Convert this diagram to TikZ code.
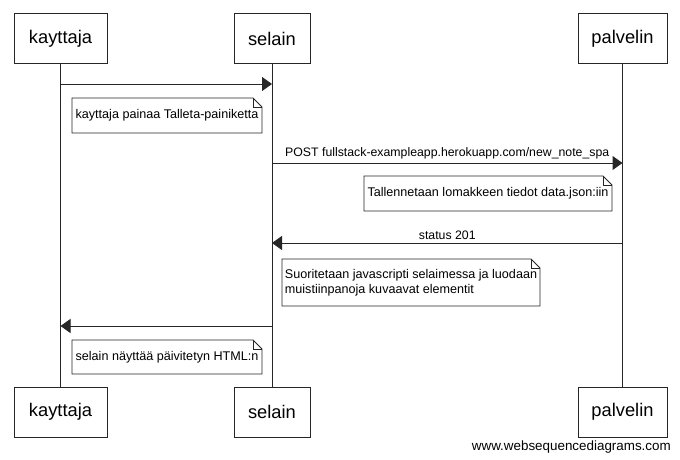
\documentclass[tikz,border=0pt]{standalone}
\usepackage{fontspec}
\setmainfont{Liberation Sans}
\usetikzlibrary{arrows.meta}
\begin{document}
\begin{tikzpicture}[x=1pt,y=-1pt,
  participant/.style={draw=black!85, line width=1pt, minimum height=50, inner sep=0, outer sep=0, font=\fontsize{18.3}{20}\selectfont},
  note/.style={fill=white, inner sep=0, outer sep=0, minimum height=35, align=left, font=\fontsize{12.6}{15.5}\selectfont},
  notebox/.style={draw=black!85, line width=0.9pt},
  lifeline/.style={draw=black!85, line width=1pt},
  msg/.style={draw=black!85, line width=1pt, -{Triangle[length=10pt,width=14pt]}},
  lbl/.style={font=\fontsize{12.3}{14}\selectfont, inner sep=0, anchor=south},
  watermark/.style={font=\fontsize{13.4}{15}\selectfont, inner sep=0, anchor=east}]
\useasboundingbox[fill=white] (0,0) rectangle (680,460);

% participants
\node[participant, minimum width=93] (k1) at (60.5,39) {kayttaja};
\node[participant, minimum width=76] (s1) at (272,39) {selain};
\node[participant, minimum width=89] (p1) at (622.5,39) {palvelin};
\node[participant, minimum width=93] (k2) at (60.5,412) {kayttaja};
\node[participant, minimum width=76] (s2) at (272,412) {selain};
\node[participant, minimum width=89] (p2) at (622.5,412) {palvelin};

% lifelines
\draw[lifeline] (k1.south) -- (k2.north);
\draw[lifeline] (s1.south) -- (s2.north);
\draw[lifeline] (p1.south) -- (p2.north);

% message end points
\coordinate (m1a) at (k1.south |- 0,84);
\coordinate (m1b) at (s1.south |- 0,84);
\coordinate (m2a) at (s1.south |- 0,163);
\coordinate (m2b) at (p1.south |- 0,163);
\coordinate (m3a) at (p1.south |- 0,243);
\coordinate (m3b) at (s1.south |- 0,243);
\coordinate (m4a) at (s1.south |- 0,326);
\coordinate (m4b) at (k1.south |- 0,326);

\draw[msg] (m1a) -- (m1b);
\draw[msg] (m2a) -- node[lbl, yshift=3pt] {POST fullstack-exampleapp.herokuapp.com/new\_note\_spa} (m2b);
\draw[msg] (m3a) -- node[lbl, yshift=3pt] {status 201} (m3b);
\draw[msg] (m4a) -- (m4b);

% notes
\node[note, minimum width=190] (n1) at (167,115.5) {kayttaja painaa Talleta-painiketta};
\node[note, minimum width=248] (n2) at (488,193.5) {Tallennetaan lomakkeen tiedot data.json:iin};
\node[note, minimum width=258, minimum height=47] (n3) at (411,282.5) {Suoritetaan javascripti selaimessa ja luodaan\\muistiinpanoja kuvaavat elementit};
\node[note, minimum width=190, minimum height=34] (n4) at (167,357) {selain näyttää päivitetyn HTML:n};

\foreach \n in {n1,n2,n3,n4}{
  \draw[notebox] (\n.north west) -- ([xshift=-9pt]\n.north east) -- ([yshift=-9pt]\n.north east)
     -- (\n.south east) -- (\n.south west) -- cycle;
  \draw[notebox] ([xshift=-9pt]\n.north east) |- ([yshift=-9pt]\n.north east);
}

% watermark
\node[watermark] (wm) at (671,447) {www.websequencediagrams.com};
\end{tikzpicture}
\end{document}
